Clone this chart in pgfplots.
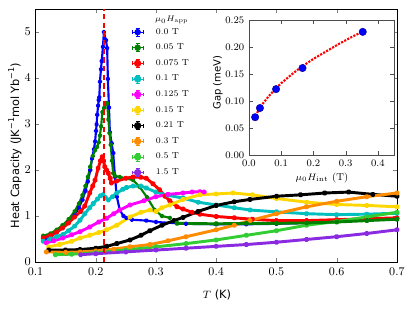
\documentclass[border=0pt]{standalone}
\usepackage{fontspec}
\usepackage{pgfplots}
\pgfplotsset{compat=1.18}
\newfontfamily\dv{DejaVu Sans}
\definecolor{cB}{rgb}{0,0,1}
\definecolor{cG}{rgb}{0,0.5,0}
\definecolor{cR}{rgb}{1,0,0}
\definecolor{cC}{rgb}{0,0.75,0.75}
\definecolor{cM}{rgb}{1,0,1}
\definecolor{cY}{rgb}{1,0.843,0}
\definecolor{cK}{rgb}{0,0,0}
\definecolor{cO}{rgb}{1,0.549,0}
\definecolor{cL}{rgb}{0.196,0.804,0.196}
\definecolor{cP}{rgb}{0.541,0.169,0.886}
\newcommand{\errimg}[1]{%
 \draw[#1, line width=0.5pt] (0pt,0pt) -- (8pt,0pt) (0pt,-1.4pt)--(0pt,1.4pt) (8pt,-1.4pt)--(8pt,1.4pt) (4pt,-3pt)--(4pt,3pt) (2.6pt,-3pt)--(5.4pt,-3pt) (2.6pt,3pt)--(5.4pt,3pt);
 \fill[#1] (4pt,0) circle (1.6pt);}
\newcommand{\sups}[1]{\raisebox{0.8ex}{\fontsize{6}{6}\selectfont #1}}
\newcommand{\legE}[1]{\addlegendentry{\hspace*{9.5pt}#1}}
\pgfplotsset{cur/.style={color=#1, line width=2.2pt, mark=*, mark size=1.0pt, line join=round, legend image code/.code={\errimg{#1}}}}
\begin{document}
\begin{tikzpicture}
\useasboundingbox (0,0) rectangle (311.25pt,234pt);
\begin{axis}[
 at={(26.6pt,37.5pt)}, anchor=south west, scale only axis,
 width=271.1pt, height=189.75pt,
 xmin=0.1, xmax=0.7, ymin=0, ymax=5.5,
 xtick={0.1,0.2,0.3,0.4,0.5,0.6,0.7}, ytick={0,1,2,3,4,5},
 xticklabels={0.1,0.2,0.3,0.4,0.5,0.6,0.7},
 tick align=inside, major tick length=3pt,
 axis line style={line width=0.5pt},
 ticklabel style={font=\fontsize{8.8}{10}\selectfont},
 xticklabel style={yshift=-1pt},
 xlabel={$T$ {\dv (K)}},
 ylabel={\dv Heat Capacity (JK\sups{−1}mol Yb\sups{−1})},
 label style={font=\fontsize{8.5}{10}\selectfont},
 xlabel style={at={(axis description cs:0.502,-0.13)}, anchor=center},
 ylabel style={at={(axis description cs:-0.057,0.46)}, anchor=center},
 legend style={at={(0.267,0.927)}, anchor=north west, draw=none, fill=none,
   inner sep=0pt, outer sep=0pt, row sep=4.7pt, font=\fontsize{6.5}{7}\selectfont,
   nodes={inner sep=0pt, text height=5pt, text depth=2pt}},
 legend cell align=left,
 clip=true,
]
\addplot[cur=cB, line width=1.6pt] coordinates {
(0.115,0.50) (0.125,0.56) (0.135,0.64) (0.145,0.74) (0.155,0.86) (0.165,1.02) (0.172,1.18) (0.178,1.35) (0.183,1.55) (0.187,1.75) (0.191,2.0) (0.194,2.25) (0.197,2.45) (0.199,2.62) (0.2005,2.85) (0.2015,2.99) (0.2025,3.2) (0.204,3.4) (0.205,3.52) (0.206,3.58) (0.207,3.92) (0.2087,4.19) (0.210,4.37) (0.212,4.68) (0.2136,5.0) (0.217,4.82) (0.219,4.65) (0.2202,3.98) (0.222,3.36) (0.2235,2.82) (0.2265,2.58) (0.229,2.37) (0.232,1.85) (0.235,1.42) (0.24,1.13) (0.246,1.0) (0.251,0.96) (0.26,0.92) (0.284,0.9) (0.3,0.87) (0.35,0.83) (0.4,0.82) (0.45,0.82) (0.5,0.83) (0.55,0.85) (0.6,0.88) (0.65,0.91) (0.7,0.95)};
\legE{0.0 T}
\addplot[cur=cG, line width=1.6pt] coordinates {
(0.113,0.57) (0.125,0.62) (0.135,0.70) (0.145,0.80) (0.155,0.93) (0.165,1.10) (0.172,1.27) (0.178,1.45) (0.183,1.65) (0.187,1.85) (0.191,2.07) (0.195,2.3) (0.199,2.43) (0.202,2.5) (0.205,2.6) (0.207,2.75) (0.209,2.95) (0.211,3.26) (0.214,3.35) (0.217,3.46) (0.219,3.45) (0.221,3.1) (0.223,2.8) (0.225,2.55) (0.227,2.2) (0.229,1.93) (0.232,1.87) (0.24,1.85) (0.25,1.82) (0.262,1.78) (0.273,1.63) (0.285,1.41) (0.298,1.13) (0.31,1.0) (0.323,0.96)};
\legE{0.05 T}
\addplot[cur=cR] coordinates {
(0.113,0.52) (0.125,0.58) (0.135,0.65) (0.145,0.74) (0.155,0.85) (0.165,0.98) (0.175,1.1) (0.182,1.22) (0.19,1.5) (0.195,1.65) (0.199,1.78) (0.204,2.04) (0.208,2.2) (0.211,2.29) (0.213,2.2) (0.215,2.07) (0.218,2.0) (0.221,1.93) (0.224,1.82) (0.226,1.72) (0.235,1.76) (0.25,1.82) (0.262,1.85) (0.275,1.84) (0.284,1.82) (0.295,1.7) (0.306,1.57) (0.315,1.43) (0.323,1.33) (0.335,1.2) (0.345,1.15) (0.36,1.08) (0.373,1.04) (0.4,0.99) (0.43,0.96) (0.46,0.93) (0.5,0.9) (0.55,0.9) (0.6,0.92) (0.65,0.94) (0.7,0.96)};
\legE{0.075 T}
\addplot[cur=cC] coordinates {
(0.113,0.45) (0.125,0.5) (0.135,0.55) (0.146,0.6) (0.155,0.68) (0.165,0.78) (0.174,0.91) (0.182,1.05) (0.19,1.18) (0.196,1.27) (0.203,1.37) (0.208,1.44) (0.212,1.46) (0.216,1.4) (0.221,1.35) (0.228,1.42) (0.235,1.5) (0.245,1.58) (0.251,1.62) (0.262,1.65) (0.275,1.65) (0.284,1.61) (0.3,1.52) (0.32,1.45) (0.345,1.39) (0.37,1.3) (0.4,1.24) (0.43,1.18) (0.456,1.13) (0.5,1.09) (0.55,1.05) (0.6,1.03) (0.65,1.04) (0.7,1.06)};
\legE{0.1 T}
\addplot[cur=cM] coordinates {
(0.118,0.42) (0.13,0.46) (0.145,0.52) (0.16,0.59) (0.174,0.66) (0.19,0.76) (0.205,0.87) (0.218,0.95) (0.23,1.05) (0.24,1.13) (0.257,1.24) (0.28,1.33) (0.3,1.42) (0.32,1.47) (0.345,1.5) (0.36,1.52) (0.373,1.53) (0.38,1.52)};
\legE{0.125 T}
\addplot[cur=cY] coordinates {
(0.122,0.33) (0.14,0.38) (0.16,0.45) (0.174,0.52) (0.19,0.58) (0.205,0.64) (0.218,0.7) (0.235,0.8) (0.257,0.98) (0.275,1.08) (0.29,1.13) (0.3,1.1) (0.31,1.18) (0.323,1.24) (0.345,1.36) (0.373,1.46) (0.4,1.48) (0.428,1.5) (0.46,1.46) (0.5,1.38) (0.55,1.3) (0.6,1.25) (0.65,1.23) (0.7,1.2)};
\legE{0.15 T}
\addplot[cur=cK] coordinates {
(0.122,0.26) (0.15,0.26) (0.174,0.27) (0.2,0.3) (0.218,0.34) (0.235,0.4) (0.257,0.48) (0.275,0.58) (0.29,0.68) (0.31,0.8) (0.33,0.9) (0.345,0.97) (0.37,1.1) (0.4,1.23) (0.43,1.31) (0.456,1.36) (0.5,1.43) (0.54,1.46) (0.58,1.5) (0.62,1.52) (0.66,1.47) (0.7,1.43)};
\legE{0.21 T}
\addplot[cur=cO] coordinates {
(0.118,0.22) (0.15,0.21) (0.174,0.22) (0.2,0.24) (0.23,0.28) (0.257,0.33) (0.29,0.38) (0.32,0.46) (0.35,0.55) (0.4,0.7) (0.43,0.8) (0.456,0.9) (0.5,1.05) (0.55,1.2) (0.6,1.32) (0.65,1.42) (0.7,1.5)};
\legE{0.3 T}
\addplot[cur=cL] coordinates {
(0.133,0.16) (0.16,0.17) (0.2,0.2) (0.25,0.26) (0.3,0.33) (0.35,0.4) (0.4,0.48) (0.45,0.58) (0.5,0.68) (0.55,0.8) (0.6,0.88) (0.65,0.98) (0.7,1.08)};
\legE{0.5 T}
\addplot[cur=cP] coordinates {
(0.175,0.16) (0.2,0.18) (0.25,0.22) (0.3,0.26) (0.35,0.3) (0.4,0.34) (0.45,0.38) (0.5,0.43) (0.55,0.49) (0.6,0.55) (0.65,0.62) (0.7,0.7)};
\legE{1.5 T}
\addplot[cur=cG, forget plot] coordinates {
(0.335,0.84) (0.4,0.83) (0.45,0.84) (0.5,0.84) (0.55,0.85) (0.6,0.87) (0.65,0.9) (0.7,0.93)};
\node[anchor=west, inner sep=0pt, font=\fontsize{6.5}{7}\selectfont] at (rel axis cs:0.3306,0.9565) {$\mu_0H_{\mathrm{app}}$};
\end{axis}
\begin{axis}[
 at={(26.6pt,37.5pt)}, anchor=south west, scale only axis,
 width=271.1pt, height=189.75pt,
 xmin=0.1, xmax=0.7, ymin=0, ymax=5.5, hide axis,
]
\addplot[draw=red, dash pattern=on 4pt off 2.5pt, line width=1.5pt, mark=none] coordinates {(0.213,0) (0.213,5.5)};
\end{axis}
\begin{axis}[
 at={(186.75pt,117.75pt)}, anchor=south west, scale only axis,
 width=108.75pt, height=101.25pt,
 xmin=0, xmax=0.45, ymin=0, ymax=0.25,
 xtick={0,0.1,0.2,0.3,0.4}, ytick={0,0.05,0.1,0.15,0.2,0.25},
 xticklabels={0.0,0.1,0.2,0.3,0.4},
 yticklabels={0.00,0.05,0.10,0.15,0.20,0.25},
 tick align=inside, major tick length=3pt,
 axis line style={gray!60!black, line width=0.5pt},
 tick style={gray!60!black},
 axis background/.style={fill=white},
 ticklabel style={font=\fontsize{7.5}{9}\selectfont},
 xlabel={$\mu_0H_{\mathrm{int}}$ (T)},
 ylabel={\dv Gap (meV)},
 label style={font=\fontsize{7.5}{9}\selectfont},
 xlabel style={at={(axis description cs:0.503,-0.17)}, anchor=center},
 ylabel style={at={(axis description cs:-0.214,0.537)}, anchor=center},
]
\addplot[red, densely dotted, line width=1.6pt] coordinates {
(0.025,0.078) (0.04,0.093) (0.06,0.108) (0.08,0.121) (0.1,0.133) (0.13,0.148) (0.16,0.162) (0.2,0.178) (0.24,0.192) (0.28,0.206) (0.32,0.219) (0.355,0.229)};
\addplot[only marks, mark=*, mark size=2.8pt, mark options={fill=blue, draw=blue!50!black, line width=0.3pt}] coordinates {
(0.019,0.070) (0.034,0.087) (0.084,0.122) (0.166,0.161) (0.353,0.228)};
\end{axis}
\end{tikzpicture}
\end{document}
